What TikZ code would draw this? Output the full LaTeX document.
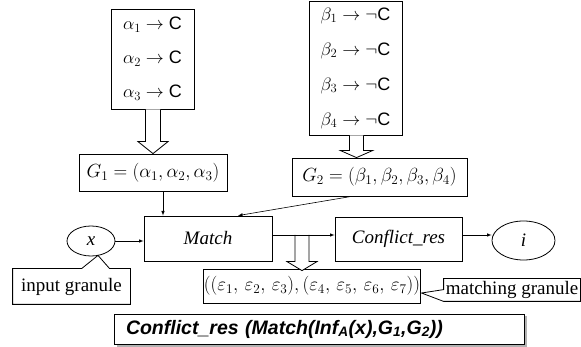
\RequirePackage{fix-cm}
\documentclass[tikz,border=0pt]{standalone}
\usepackage{fontspec}
\setmainfont{Liberation Serif}
\setsansfont{Liberation Sans}
\usetikzlibrary{arrows,calc,shapes.geometric,shadows}

\tikzset{
  box/.style={draw, rectangle, inner sep=0pt, line width=.8pt, font=\fontsize{19}{22}\selectfont},
  rules/.style={box, align=center},
  oval/.style={draw, ellipse, inner sep=0pt, line width=.8pt, font=\fontsize{19}{22}\selectfont},
  fat/.style={draw, line width=.8pt, fill=white},
  link/.style={-latex, line width=.6pt},
}

% hollow block arrow: from, to, shaft half width, head half width, head length
\newcommand{\fatarrow}[5]{%
  \draw[fat] let \p1=(#1), \p2=(#2) in
    (\x2-#3pt,\y1) -- (\x2-#3pt,\y2+#5pt) -- (\x2-#4pt,\y2+#5pt) -- (\x2,\y2)
    -- (\x2+#4pt,\y2+#5pt) -- (\x2+#3pt,\y2+#5pt) -- (\x2+#3pt,\y1);}

\begin{document}
\begin{tikzpicture}[x=1pt,y=-1pt]
\useasboundingbox (0,0) rectangle (581,347);

% rule sets
\node[rules, minimum width=83, minimum height=100, font=\sffamily\fontsize{18}{34}\selectfont] (alpha) at (152.5,59)
  {$\alpha_1\rightarrow$ C\\ $\alpha_2\rightarrow$ C\\ $\alpha_3\rightarrow$ C};
\node[rules, minimum width=93, minimum height=134, font=\sffamily\fontsize{18}{35}\selectfont] (beta) at (355.5,68)
  {$\beta_1\rightarrow\neg$C\\ $\beta_2\rightarrow\neg$C\\ $\beta_3\rightarrow\neg$C\\ $\beta_4\rightarrow\neg$C};

% granules
\node[box, minimum width=148, minimum height=37] (G1) at (153,172.5) {$G_1=(\alpha_1,\alpha_2,\alpha_3)$};
\node[box, minimum width=175, minimum height=38] (G2) at (379.5,177) {$G_2=(\beta_1,\beta_2,\beta_3,\beta_4)$};

% processing
\node[box, minimum width=128, minimum height=45] (match) at (208,238.5) {\textit{Match}};
\node[box, minimum width=127, minimum height=44] (conf) at (398.5,239) {\textit{Conflict\_res}};
\node[oval, minimum width=48, minimum height=30] (x) at (91,241) {\textit{x}};
\node[oval, minimum width=63, minimum height=39] (i) at (523.5,240.5) {\textit{i}};

\node[box, minimum width=212, minimum height=34] (eps) at (312,286)
  {$((\varepsilon_1,\,\varepsilon_2,\,\varepsilon_3),(\varepsilon_4,\,\varepsilon_5,\,\varepsilon_6,\,\varepsilon_7))$};

% callout labels
\node[box, draw=none, minimum width=117, minimum height=35] (inp) at (71.5,286.5) {input granule};
\node[box, draw=none, minimum width=136, minimum height=22] (mg) at (512,290) {matching granule};
\draw[line width=.8pt] ([xshift=69]inp.north west) -- (inp.north west) -- (inp.south west) -- (inp.south east)
  -- (inp.north east) -- ([xshift=97]inp.north west) -- ([xshift=7,yshift=1]x.south) -- cycle;
\draw[line width=.8pt] ([yshift=-11]mg.north west) -- (mg.north west) -- (mg.north east) -- (mg.south east)
  -- (mg.south west) -- ([xshift=1,yshift=-7]eps.east) -- cycle;

\node[box, fill=white, text width=386, inner xsep=12, minimum height=30, align=left,
  font=\sffamily\bfseries\itshape\fontsize{19.5}{22}\selectfont,
  drop shadow={shadow xshift=2.5pt, shadow yshift=-2.5pt, fill=gray!60, opacity=1}] (res) at (319,329)
  {Conflict\_res (Match(Inf\textsubscript{A}(x),G\textsubscript{1},G\textsubscript{2}))};

% block arrows
\coordinate (split) at ([yshift=3.5]match.east);
\fatarrow{alpha.south}{G1.north}{7.5}{15}{12}
\fatarrow{beta.south}{[xshift=-23]G2.north}{7}{16}{7}
\fatarrow{split}{[xshift=-10,yshift=-2]eps.north}{7}{15}{9}

% connectors
\draw[link] ([xshift=10]G1.south) -- ([xshift=10]G1.south |- match.north);
\draw[link] ([xshift=-28]G2.south) -- ([xshift=30]match.north);
\draw[link] (x) -- (match.west |- x);
\draw[link] (split) -- (conf.west |- split);
\draw[link] (conf.east |- split) -- (i.west |- split);
\end{tikzpicture}
\end{document}
